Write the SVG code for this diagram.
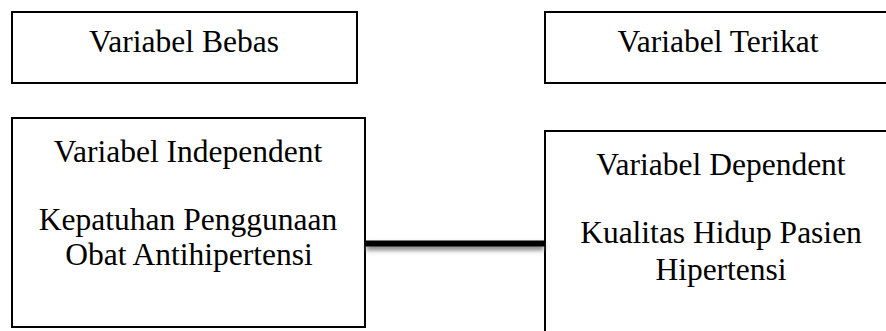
<svg xmlns="http://www.w3.org/2000/svg" width="886" height="331" viewBox="0 0 886 331">
<style>
.box{fill:#fff;stroke:#000;stroke-width:2}
.t{font-family:"Liberation Serif","Times New Roman",serif;font-size:31.5px;fill:#000;text-anchor:middle}
</style>
<defs>
<filter id="sh" x="-10%" y="-200%" width="120%" height="500%">
<feGaussianBlur stdDeviation="2.5"/>
</filter>
</defs>
<rect width="886" height="331" fill="#fff"/>
<g id="bebas">
<rect class="box" x="12" y="12" width="345" height="71"/>
<text class="t" x="184" y="52">Variabel Bebas</text>
</g>
<g id="terikat">
<rect class="box" x="545" y="12" width="346" height="71"/>
<text class="t" x="718" y="52">Variabel Terikat</text>
</g>
<g id="independent">
<rect class="box" x="12" y="118" width="353" height="209"/>
<text class="t" x="188" y="162">Variabel Independent</text>
<text class="t" x="188" y="230">Kepatuhan Penggunaan</text>
<text class="t" x="189" y="265">Obat Antihipertensi</text>
</g>
<g id="dependent">
<rect class="box" x="545" y="131" width="346" height="210"/>
<text class="t" x="721" y="175">Variabel Dependent</text>
<text class="t" x="721" y="243">Kualitas Hidup Pasien</text>
<text class="t" x="721" y="280">Hipertensi</text>
</g>
<g id="connectors">
<rect x="366" y="244" width="178" height="6" fill="#777" filter="url(#sh)"/>
<line x1="365" y1="243.5" x2="545" y2="243.5" stroke="#000" stroke-width="6"/>
</g>
</svg>
